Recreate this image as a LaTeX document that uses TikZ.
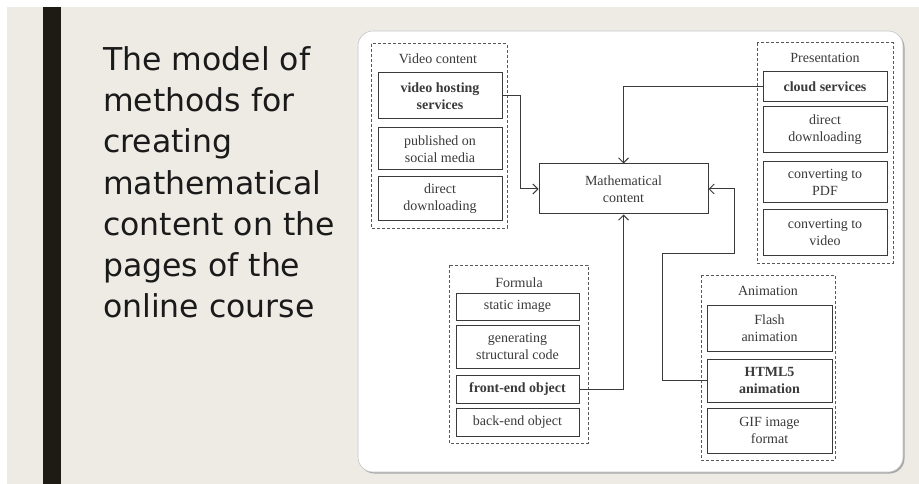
\documentclass[tikz,border=0pt]{standalone}
\usepackage{fontspec}
\setmainfont{Liberation Serif}
\newfontfamily\titlefont{DejaVu Sans}
\usetikzlibrary{arrows.meta}
\definecolor{beige}{HTML}{EDEBE4}
\definecolor{barc}{HTML}{1C1C14}
\definecolor{ink}{HTML}{3A3A3A}
\definecolor{titleink}{HTML}{1A1A1A}
\tikzset{
  itembox/.style={draw=ink, line width=1pt, text=ink, align=center, inner sep=0pt,
    font=\fontsize{14}{17}\selectfont},
  groupbox/.style={draw=ink!85, line width=1pt, dash pattern=on 3pt off 2pt},
  grouplabel/.style={text=ink, inner sep=0pt, font=\fontsize{14}{17}\selectfont},
  conn/.style={draw=ink, line width=1pt, -{Straight Barb[length=5pt,width=10pt]}},
}
\begin{document}
\begin{tikzpicture}[x=1pt,y=-1pt]
\useasboundingbox (0,0) rectangle (919,484);
\fill[white] (0,0) rectangle (919,484);
\fill[beige] (7,7) rectangle (919,484);
\fill[barc] (43,7) rectangle (60.5,484);
% title
\node[anchor=north west, inner sep=0pt, align=left, text=titleink,
  font=\titlefont\fontsize{31.5}{41.3}\selectfont] (title) at (103,46)
  {The model of\\methods for\\creating\\mathematical\\content on the\\pages of the\\online course};
% panel
\fill[gray!70, rounded corners=15pt] (359.5,32.5) rectangle (904.5,473.5);
\filldraw[fill=white, draw=gray!45, line width=0.6pt, rounded corners=15pt] (358,31) rectangle (903,472);
% groups
\draw[groupbox] (371,44) rectangle (507,228);
\node[grouplabel] (lvideo) at (438,59) {Video content};
\draw[groupbox] (757,43) rectangle (893,263);
\node[grouplabel] (lpres) at (825,58) {Presentation};
\draw[groupbox] (449,265) rectangle (588,443);
\node[grouplabel] (lform) at (519,283) {Formula};
\draw[groupbox] (701,275) rectangle (835,460);
\node[grouplabel] (lanim) at (768,291) {Animation};
% video content
\node[itembox, minimum width=124pt, minimum height=46pt] (vhs) at (440,96) {\textbf{video hosting}\\\textbf{services}};
\node[itembox, minimum width=124pt, minimum height=42pt] (pub) at (440,149) {published on\\social media};
\node[itembox, minimum width=124pt, minimum height=43pt] (dd1) at (440,198.5) {direct\\downloading};
% math
\node[itembox, minimum width=169pt, minimum height=50pt] (math) at (623.5,189) {Mathematical\\content};
% presentation
\node[itembox, minimum width=124pt, minimum height=30pt] (cloud) at (825,87) {\textbf{cloud services}};
\node[itembox, minimum width=124pt, minimum height=46pt] (dd2) at (825,130) {direct\\downloading};
\node[itembox, minimum width=124pt, minimum height=41pt] (pdf) at (825,182.5) {converting to\\PDF};
\node[itembox, minimum width=124pt, minimum height=45pt] (vid) at (825,232.5) {converting to\\video};
% formula
\node[itembox, minimum width=123pt, minimum height=27pt] (static) at (517.5,306.5) {static image};
\node[itembox, minimum width=123pt, minimum height=43pt] (gen) at (517.5,346.5) {generating\\structural code};
\node[itembox, minimum width=123pt, minimum height=28pt] (front) at (517.5,389) {\textbf{front-end object}};
\node[itembox, minimum width=123pt, minimum height=28pt] (back) at (517.5,422) {back-end object};
% animation
\node[itembox, minimum width=125pt, minimum height=46pt] (flash) at (769.5,328) {Flash\\animation};
\node[itembox, minimum width=125pt, minimum height=43pt] (html) at (769.5,380.5) {\textbf{HTML5}\\\textbf{animation}};
\node[itembox, minimum width=125pt, minimum height=45pt] (gif) at (769.5,430.5) {GIF image\\format};
% connectors
\coordinate (b1) at (520,189);
\draw[conn] (vhs.east) -| (b1) -- (math.west);
\draw[conn] (cloud.west) -| (math.north);
\draw[conn] (front.east) -| (math.south);
\coordinate (c1) at (662,253);
\coordinate (c2) at (734,253);
\coordinate (c3) at (734,189);
\draw[conn] (html.west) -| (c1) -- (c2) -- (c3) -- (math.east);
\end{tikzpicture}
\end{document}
